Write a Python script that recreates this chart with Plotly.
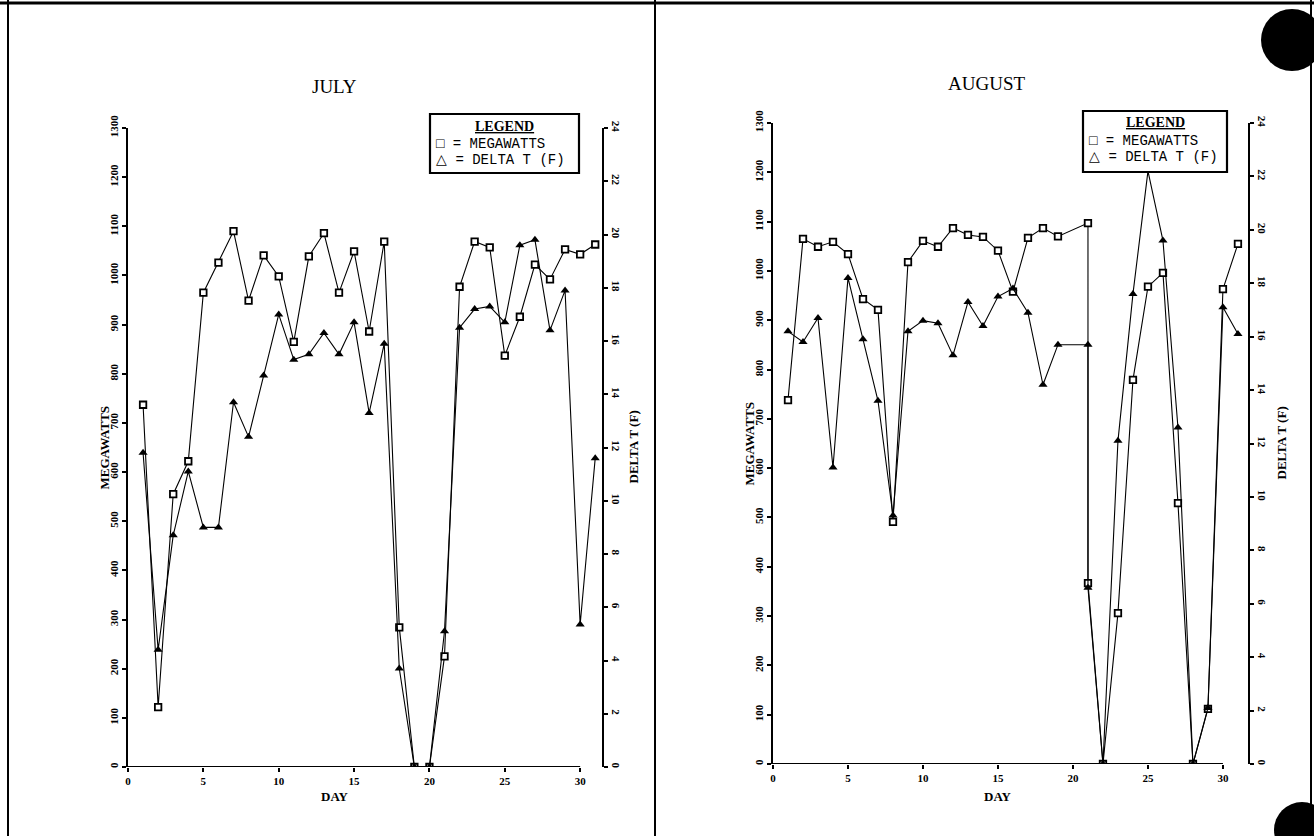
import plotly.graph_objects as go

W, H = 1314, 836

# ---------------- data ----------------
july_days = list(range(1, 32))
july_mw = [737, 122, 555, 622, 965, 1026, 1090, 949, 1041, 998, 865, 1039, 1086, 965, 1049,
           886, 1069, 284, 0, 0, 225, 977, 1069, 1057, 837, 916, 1022, 992, 1053, 1043, 1063]
july_dt = [11.8, 4.4, 8.7, 11.1, 9.0, 9.0, 13.7, 12.4, 14.7, 17.0, 15.3, 15.5, 16.3, 15.5, 16.7,
           13.3, 15.9, 3.7, 0, 0, 5.1, 16.5, 17.2, 17.3, 16.7, 19.6, 19.8, 16.4, 17.9, 5.35, 11.6]

aug_days = list(range(1, 20)) + [21, 21] + list(range(22, 32))
aug_mw = [738, 1065, 1049, 1059, 1034, 943, 921, 491, 1018, 1061, 1049, 1087, 1073, 1069, 1041,
          958, 1067, 1087, 1070, 1097, 367, 0, 306, 779, 968, 996, 529, 0, 112, 963, 1055]
aug_dt = [16.2, 15.8, 16.7, 11.1, 18.2, 15.9, 13.6, 9.3, 16.2, 16.6, 16.5, 15.3, 17.3, 16.4, 17.5,
          17.8, 16.9, 14.2, 15.7, 15.7, 6.6, 0, 12.1, 17.6, 22.2, 19.6, 12.6, 0, 2.1, 17.1, 16.1]

mw_ticks = list(range(0, 1301, 100))
dt_ticks = list(range(0, 25, 2))
day_ticks = list(range(0, 31, 5))

panel_titles = ["JULY", "AUGUST"]
legend_lines = ["LEGEND", "\u25a1 = MEGAWATTS", "\u25b3 = DELTA T (F)"]
y_left_title = "MEGAWATTS"
y_right_title = "DELTA T (F)"
x_title = "DAY"

# ---------------- layout geometry (pixels) ----------------
def px(x):
    return x / W

def py(y):
    return 1 - y / H

panels = [
    dict(days=july_days, mw=july_mw, dt=july_dt, x0=128, x1=602, ytop=128, ybot=767, xmax=31.45,
         box=(430, 114, 579, 173), title=(334, 86), ltitle=104, rtitle=633, xtitle=(335, 796)),
    dict(days=aug_days, mw=aug_mw, dt=aug_dt, x0=773, x1=1248, ytop=123, ybot=764, xmax=31.67,
         box=(1083, 111, 1227, 172), title=(986, 84), ltitle=749, rtitle=1281, xtitle=(998, 796)),
]

serif = "Liberation Serif"
mono = "Liberation Mono"

fig = go.Figure()
layout = dict(
    width=W, height=H, autosize=False,
    margin=dict(l=0, r=0, t=0, b=0, pad=0, autoexpand=False),
    paper_bgcolor="white", plot_bgcolor="white",
    showlegend=False,
)
shapes = []
annotations = []

tickfont = dict(family=serif, size=11, color="black", weight="bold")
titlefont = dict(family=serif, size=13, color="black", weight="bold")

for i, p in enumerate(panels):
    xa = "x" if i == 0 else "x2"
    ya_l = "y" if i == 0 else "y3"
    ya_r = "y2" if i == 0 else "y4"
    xkey = "xaxis" if i == 0 else "xaxis2"
    ylkey = "yaxis" if i == 0 else "yaxis3"
    yrkey = "yaxis2" if i == 0 else "yaxis4"

    fig.add_trace(go.Scatter(
        x=p["days"], y=p["dt"], xaxis=xa, yaxis=ya_r, mode="lines+markers",
        line=dict(color="black", width=1.1),
        marker=dict(symbol="triangle-up", size=8, color="black"),
        name="DELTA T (F)"))
    fig.add_trace(go.Scatter(
        x=p["days"], y=p["mw"], xaxis=xa, yaxis=ya_l, mode="lines+markers",
        line=dict(color="black", width=1.1),
        marker=dict(symbol="square", size=6.5, color="white", line=dict(color="black", width=1.8)),
        name="MEGAWATTS"))

    layout[xkey] = dict(
        domain=[px(p["x0"]), px(p["x1"])], range=[0, p["xmax"]], automargin=False,
        anchor=ya_l, tickvals=day_ticks, ticks="outside", ticklen=4, tickwidth=1.5,
        tickcolor="black", showline=False, showgrid=False, zeroline=False,
        tickfont=tickfont,
    )
    layout[ylkey] = dict(
        domain=[py(p["ybot"]), py(p["ytop"])], range=[0, max(mw_ticks)], automargin=False,
        anchor=xa, tickvals=mw_ticks, ticks="outside", ticklen=4, tickwidth=1.5,
        tickcolor="black", showline=True, linecolor="black", linewidth=1.8,
        showgrid=False, zeroline=False, tickangle=-90, tickfont=tickfont,
    )
    layout[yrkey] = dict(
        range=[0, max(dt_ticks)], overlaying=ya_l, side="right", anchor=xa, automargin=False,
        tickvals=dt_ticks, ticks="outside", ticklen=4, tickwidth=1.5, tickcolor="black",
        showline=True, linecolor="black", linewidth=1.8, showgrid=False, zeroline=False,
        tickangle=90, tickfont=tickfont,
    )

    # bottom axis line from 0 to last day tick
    shapes.append(dict(type="line", xref=xa, yref=ya_l, x0=0, x1=max(day_ticks), y0=0, y1=0,
                       line=dict(color="black", width=2)))

    # axis titles
    ymid = (p["ytop"] + p["ybot"]) / 2
    annotations.append(dict(text=y_left_title, x=px(p["ltitle"]), y=py(ymid), xref="paper",
                            yref="paper", showarrow=False, textangle=-90, font=titlefont,
                            xanchor="center", yanchor="middle"))
    annotations.append(dict(text=y_right_title, x=px(p["rtitle"]), y=py(ymid), xref="paper",
                            yref="paper", showarrow=False, textangle=-90, font=titlefont,
                            xanchor="center", yanchor="middle"))
    annotations.append(dict(text=x_title, x=px(p["xtitle"][0]), y=py(p["xtitle"][1]), xref="paper",
                            yref="paper", showarrow=False, font=titlefont,
                            xanchor="center", yanchor="middle"))

    # panel title
    annotations.append(dict(text=panel_titles[i], x=px(p["title"][0]), y=py(p["title"][1]),
                            xref="paper", yref="paper", showarrow=False,
                            font=dict(family=serif, size=19, color="black"),
                            xanchor="center", yanchor="middle"))

    # legend box
    bx0, by0, bx1, by1 = p["box"]
    shapes.append(dict(type="rect", xref="paper", yref="paper", x0=px(bx0), x1=px(bx1),
                       y0=py(by1), y1=py(by0), line=dict(color="black", width=2.2),
                       fillcolor="white", layer="above"))
    annotations.append(dict(text="<u>" + legend_lines[0] + "</u>", x=px((bx0 + bx1) / 2),
                            y=py(by0 + 12), xref="paper", yref="paper", showarrow=False,
                            font=dict(family=serif, size=14, color="black", weight="bold"),
                            xanchor="center", yanchor="middle"))
    for k, line in enumerate(legend_lines[1:]):
        annotations.append(dict(text=line, x=px(bx0 + 4), y=py(by0 + 30 + 16 * k),
                                xref="paper", yref="paper", showarrow=False,
                                font=dict(family=mono, size=14, color="black"),
                                xanchor="left", yanchor="middle"))

# page frame and scan marks
frame = [
    dict(x0=0, x1=W, y0=3, y1=3, w=3),
    dict(x0=8, x1=8, y0=0, y1=H, w=2),
    dict(x0=655, x1=655, y0=0, y1=H, w=2),
    dict(x0=1311, x1=1311, y0=0, y1=H, w=2),
]
for f in frame:
    shapes.append(dict(type="line", xref="paper", yref="paper", x0=px(f["x0"]), x1=px(f["x1"]),
                       y0=py(f["y0"]), y1=py(f["y1"]), line=dict(color="black", width=f["w"])))
for cx, cy, r in [(1292, 40, 31), (1302, 830, 28)]:
    shapes.append(dict(type="circle", xref="paper", yref="paper", x0=px(cx - r), x1=px(cx + r),
                       y0=py(cy + r), y1=py(cy - r), fillcolor="black", line=dict(color="black", width=0)))

layout["shapes"] = shapes
layout["annotations"] = annotations
fig.update_layout(**layout)

fig.write_html("out.html", config={"displayModeBar": False},
               post_script="document.body.style.margin='0';document.body.style.overflow='hidden';")
